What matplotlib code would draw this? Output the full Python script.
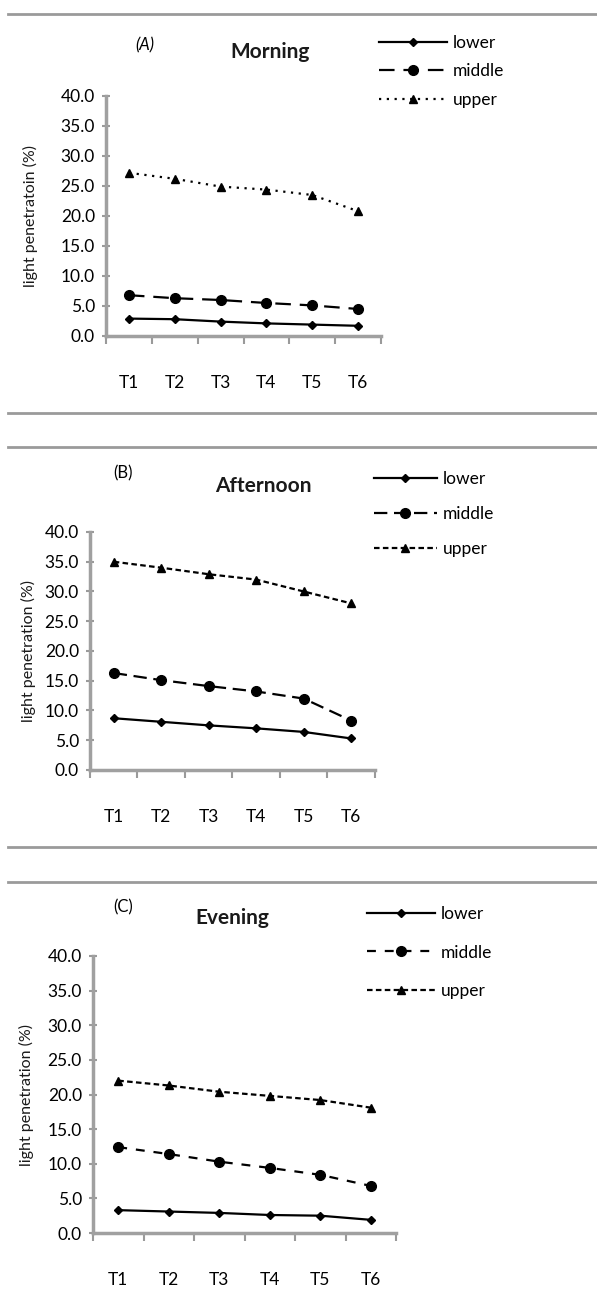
import matplotlib
matplotlib.use('Agg')
import matplotlib.pyplot as plt
from matplotlib.lines import Line2D

plt.rcParams['font.family'] = ['Lato', 'DejaVu Sans']

# data
times = ['T1', 'T2', 'T3', 'T4', 'T5', 'T6']
series = ['lower', 'middle', 'upper']

morning_lower = [2.9, 2.8, 2.4, 2.1, 1.9, 1.7]
morning_middle = [6.8, 6.3, 6.0, 5.5, 5.1, 4.5]
morning_upper = [27.2, 26.2, 24.9, 24.4, 23.5, 20.8]

afternoon_lower = [8.7, 8.1, 7.5, 7.0, 6.4, 5.3]
afternoon_middle = [16.3, 15.1, 14.1, 13.2, 12.0, 8.3]
afternoon_upper = [35.0, 34.0, 32.9, 32.0, 30.0, 28.0]

evening_lower = [3.3, 3.1, 2.9, 2.6, 2.5, 1.9]
evening_middle = [12.4, 11.4, 10.3, 9.4, 8.4, 6.8]
evening_upper = [22.0, 21.3, 20.4, 19.8, 19.2, 18.1]

W, H = 597, 1290
fig = plt.figure(figsize=(W / 100, H / 100), dpi=100)

def px_axes(l, r, t, b):
    return fig.add_axes([l / W, 1 - b / H, (r - l) / W, (b - t) / H])

def hline(y):
    fig.add_artist(Line2D([8 / W, 1], [1 - y / H] * 2, transform=fig.transFigure,
                          color='#9a9a9a', lw=2))

panels = [
    dict(box=(106, 381, 96, 336), data=(morning_lower, morning_middle, morning_upper),
         title='Morning', tpos=(270, 52), tag='(A)', tagpos=(145, 45), tag_style='italic',
         ylabel='light penetratoin (%)', ylab_x=30,
         styles=[('-', (None, None)), ('--', (7, 4)), (':', (1, 2.5))],
         leg=(379, 35), lspace=0.72, hlen=3.9),
    dict(box=(90, 375, 532, 770), data=(afternoon_lower, afternoon_middle, afternoon_upper),
         title='Afternoon', tpos=(263, 486), tag='(B)', tagpos=(123, 473), tag_style='normal',
         ylabel='light penetration (%)', ylab_x=28,
         styles=[('-', (None, None)), ('--', (6, 3)), ('--', (2.5, 1.5))],
         leg=(374, 471), lspace=1.1, hlen=3.6),
    dict(box=(93, 396, 956, 1233), data=(evening_lower, evening_middle, evening_upper),
         title='Evening', tpos=(232, 918), tag='(C)', tagpos=(123, 907), tag_style='normal',
         ylabel='light penetration (%)', ylab_x=26,
         styles=[('-', (None, None)), ('--', (4, 4)), ('--', (2.5, 1.5))],
         leg=(367, 906), lspace=1.3, hlen=3.9),
]

markers = [('D', 4), ('o', 7), ('^', 6)]

for p in panels:
    ax = px_axes(*p['box'])
    xs = [i + 0.5 for i in range(len(times))]
    for vals, name, (ls, dash), (m, ms) in zip(p['data'], series, p['styles'], markers):
        line, = ax.plot(xs, vals, color='black', lw=1.6, marker=m, markersize=ms,
                        label=name, linestyle=ls)
        if dash[0] is not None:
            line.set_dashes(dash)
    ax.set_xlim(0, len(times))
    ax.set_ylim(0, 40)
    ax.set_yticks([0, 5, 10, 15, 20, 25, 30, 35, 40])
    ax.set_yticklabels(['%.1f' % v for v in [0, 5, 10, 15, 20, 25, 30, 35, 40]])
    ax.set_xticks(range(len(times) + 1))
    ax.set_xticklabels([])
    ax.set_xticks(xs, minor=True)
    ax.set_xticklabels(times, minor=True)
    ax.tick_params(axis='x', which='minor', length=0, pad=28, labelsize=12.5)
    ax.tick_params(axis='x', which='major', length=6, width=1.5, color='#9a9a9a', direction='out')
    ax.tick_params(axis='y', length=6, width=1.5, color='#9a9a9a', direction='inout',
                   labelsize=12.5, pad=5)
    for s in ['top', 'right']:
        ax.spines[s].set_visible(False)
    for s in ['left', 'bottom']:
        ax.spines[s].set_color('#a0a0a0')
        ax.spines[s].set_linewidth(2.5)
    ax.patch.set_alpha(0)
    fig.text(p['ylab_x'] / W, 1 - ((p['box'][2] + p['box'][3]) / 2) / H, p['ylabel'],
             rotation=90, ha='center', va='center', fontsize=11.5, color='#1a1a1a')
    fig.text(p['tpos'][0] / W, 1 - p['tpos'][1] / H, p['title'], ha='center', va='center',
             fontsize=15, fontweight='bold', color='#1a1a1a')
    fig.text(p['tagpos'][0] / W, 1 - p['tagpos'][1] / H, p['tag'], ha='center', va='center',
             fontsize=12, style=p['tag_style'])
    ax.legend(loc='upper left', bbox_to_anchor=(p['leg'][0] / W, 1 - p['leg'][1] / H),
              bbox_transform=fig.transFigure, frameon=False, fontsize=12.5,
              handlelength=p['hlen'], labelspacing=p['lspace'], handletextpad=0.35,
              borderaxespad=0, borderpad=0)

for y in [14, 413, 447, 847, 882]:
    hline(y)

fig.savefig('out.png', dpi=100)
